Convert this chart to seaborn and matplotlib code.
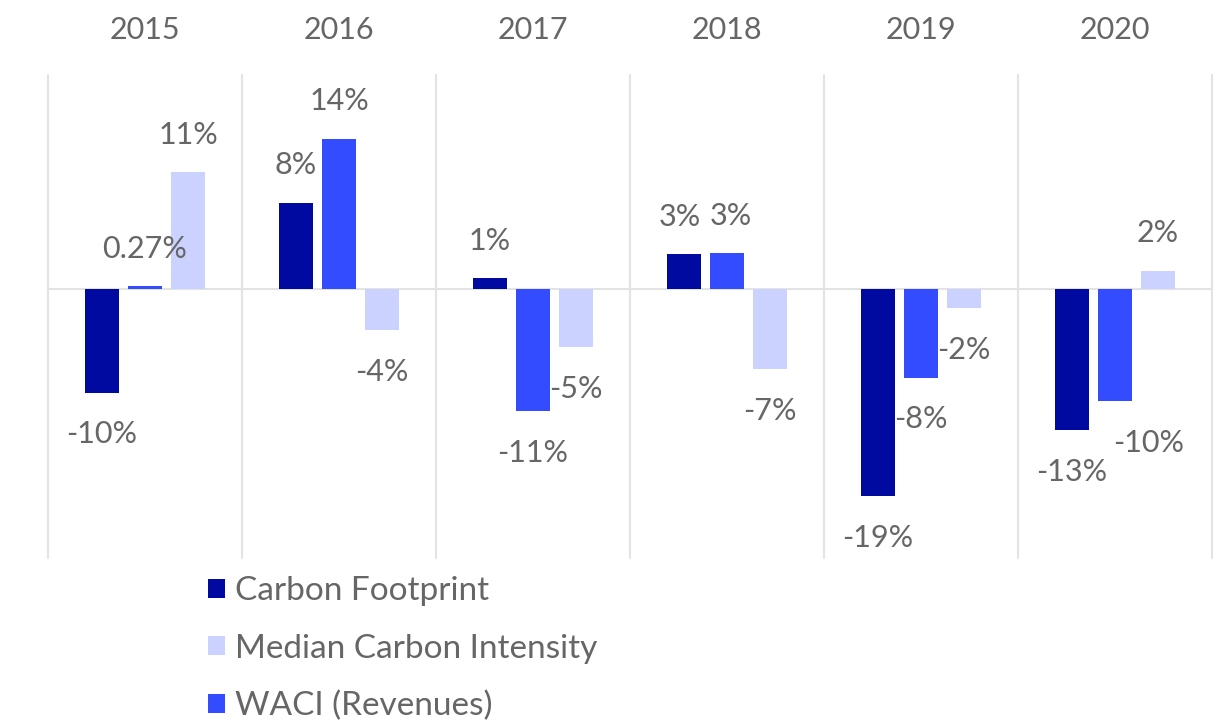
import pandas as pd
import seaborn as sns
import matplotlib.pyplot as plt

# Chart data (year-on-year change, %)
years = ["2015", "2016", "2017", "2018", "2019", "2020"]
carbon_footprint = [-9.6, 8.0, 1.0, 3.2, -19.2, -13.1]
waci_revenues = [0.27, 13.9, -11.3, 3.3, -8.2, -10.4]
median_intensity = [10.8, -3.8, -5.4, -7.4, -1.8, 1.7]

series_names = ["Carbon Footprint", "WACI (Revenues)", "Median Carbon Intensity"]
legend_order = ["Carbon Footprint", "Median Carbon Intensity", "WACI (Revenues)"]
colors = {"Carbon Footprint": "#0009A0",
          "WACI (Revenues)": "#334CFF",
          "Median Carbon Intensity": "#CCD2FF"}

df = pd.DataFrame({
    "year": years * 3,
    "series": [s for s in series_names for _ in years],
    "value": carbon_footprint + waci_revenues + median_intensity,
})

sns.set_style("white")
plt.rcParams["font.family"] = ["Lato", "DejaVu Sans"]
text_color = "#666666"
grid_color = "#E3E3E3"

fig = plt.figure(figsize=(12.3, 7.24), dpi=100)
ax = fig.add_axes([0.039, 0.2293, 0.9464, 0.6671])

sns.barplot(data=df, x="year", y="value", hue="series", hue_order=series_names,
            palette=colors, width=0.665, gap=0.21, ax=ax, legend=True,
            edgecolor="none", saturation=1)

ax.set_ylim(-24.9, 19.8)
ax.set_xlim(-0.5, len(years) - 0.5)

# grid: vertical separators between years and the zero line
for i in range(len(years) + 1):
    ax.axvline(i - 0.5, color=grid_color, lw=1.5, zorder=0, clip_on=False)
ax.axhline(0, color=grid_color, lw=1.5, zorder=0)

for sp in ax.spines.values():
    sp.set_visible(False)
ax.set_yticks([])
ax.set_xlabel("")
ax.set_ylabel("")
ax.xaxis.tick_top()
ax.tick_params(axis="x", length=0, pad=22, labelsize=22, labelcolor=text_color)

# data labels
nudge = {("WACI (Revenues)", 5): 24, ("Carbon Footprint", 3): -3, ("WACI (Revenues)", 3): 3}
for name, cont in zip(series_names, ax.containers):
    for i, bar in enumerate(cont):
        v = bar.get_height()
        txt = f"{v:.0f}%" if abs(v) >= 1 else f"{v:.2f}%"
        dy = 27 if v >= 0 else -30
        ax.annotate(txt, (bar.get_x() + bar.get_width() / 2, v),
                    xytext=(nudge.get((name, i), 0), dy), textcoords="offset points",
                    ha="center", va="center", fontsize=22, color=text_color)

handles, labels = ax.get_legend_handles_labels()
lookup = dict(zip(labels, handles))
ax.get_legend().remove()
leg = fig.legend([lookup[n] for n in legend_order], legend_order,
                 loc="upper left", bbox_to_anchor=(0.169, 0.204), frameon=False,
                 fontsize=24, labelcolor=text_color, handlelength=0.5,
                 handleheight=0.5, handletextpad=0.3, labelspacing=0.82,
                 borderaxespad=0, borderpad=0)

fig.savefig("out.png", dpi=100)
